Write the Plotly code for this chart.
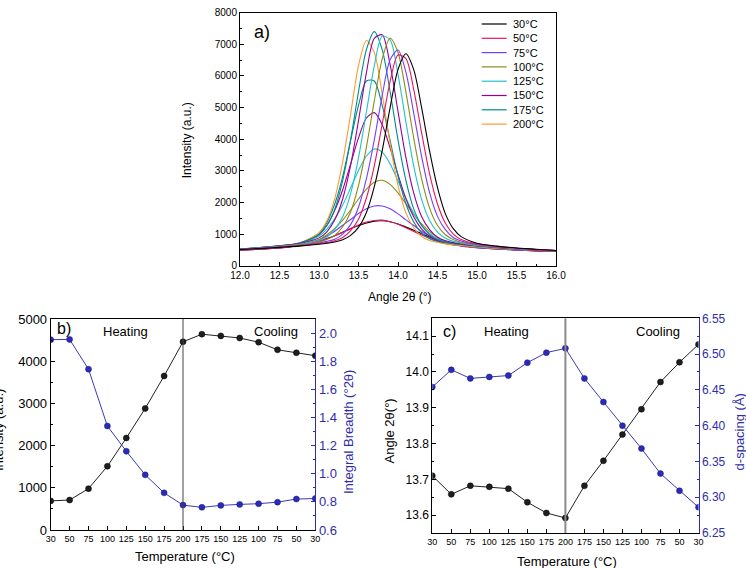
import plotly.graph_objects as go

# ---------------- data: panel a (XRD patterns) ----------------
angle_grid = [12.0, 12.25, 12.5, 12.75, 13.0, 13.1, 13.2, 13.3, 13.4, 13.5, 13.6, 13.7, 13.8, 13.9,
              14.0, 14.1, 14.2, 14.3, 14.4, 14.5, 14.6, 14.7, 14.8, 15.0, 15.25, 15.5, 15.75, 16.0]

heat_30 = [490, 520, 560, 640, 780, 860, 950, 1060, 1170, 1270, 1350, 1410, 1420, 1390, 1320, 1220, 1120, 1010, 910, 820, 750, 690, 640, 580, 530, 500, 470, 450]
heat_50 = [490, 520, 560, 630, 770, 850, 950, 1060, 1180, 1290, 1380, 1430, 1440, 1390, 1310, 1200, 1080, 970, 870, 780, 710, 660, 620, 570, 530, 500, 470, 450]
heat_75 = [500, 530, 570, 650, 820, 940, 1090, 1280, 1460, 1650, 1800, 1890, 1890, 1800, 1640, 1450, 1270, 1080, 930, 810, 730, 670, 630, 570, 530, 500, 480, 450]
heat_100 = [510, 540, 580, 650, 830, 980, 1180, 1440, 1760, 2110, 2420, 2640, 2700, 2570, 2300, 1960, 1620, 1320, 1080, 900, 780, 700, 650, 590, 540, 510, 490, 460]
heat_125 = [520, 550, 590, 680, 940, 1160, 1490, 1920, 2460, 3010, 3460, 3690, 3590, 3220, 2680, 2130, 1650, 1270, 1020, 850, 750, 680, 640, 590, 550, 520, 490, 460]
heat_150 = [520, 560, 610, 700, 1000, 1280, 1750, 2400, 3210, 4040, 4670, 4840, 4460, 3720, 2880, 2120, 1540, 1160, 930, 790, 710, 670, 640, 600, 560, 520, 490, 460]
heat_175 = [530, 570, 620, 710, 1030, 1370, 1960, 2820, 3960, 5070, 5840, 5840, 5070, 3960, 2830, 1960, 1380, 1030, 850, 760, 700, 660, 640, 600, 560, 520, 490, 470]
heat_200 = [530, 570, 630, 720, 1040, 1420, 2130, 3280, 4790, 6330, 7120, 6740, 5430, 3860, 2540, 1670, 1200, 920, 800, 740, 690, 660, 640, 600, 550, 520, 490, 460]
cool_175 = [530, 575, 630, 720, 980, 1270, 1790, 2700, 3980, 5500, 6830, 7400, 6830, 5500, 3980, 2700, 1790, 1270, 980, 830, 750, 710, 670, 620, 570, 530, 500, 470]
cool_150 = [530, 570, 630, 700, 880, 1070, 1450, 2110, 3170, 4590, 6100, 7190, 7300, 6360, 4880, 3420, 2290, 1550, 1140, 900, 790, 730, 690, 630, 580, 530, 500, 470]
cool_125 = [520, 565, 610, 680, 800, 910, 1150, 1550, 2280, 3410, 4860, 6320, 7260, 7140, 6050, 4550, 3140, 2090, 1430, 1060, 870, 770, 720, 640, 590, 540, 510, 480]
cool_100 = [520, 550, 600, 660, 750, 830, 960, 1230, 1700, 2540, 3750, 5210, 6540, 7190, 6740, 5490, 4020, 2740, 1820, 1270, 980, 830, 740, 660, 590, 550, 510, 480]
cool_75 = [510, 550, 590, 640, 720, 770, 840, 1000, 1300, 1850, 2750, 3980, 5380, 6510, 6820, 6120, 4810, 3440, 2310, 1560, 1140, 890, 780, 670, 600, 550, 510, 480]
cool_50 = [510, 540, 580, 630, 700, 730, 790, 890, 1110, 1470, 2140, 3160, 4480, 5820, 6660, 6550, 5560, 4190, 2900, 1950, 1340, 1000, 830, 690, 610, 560, 510, 480]
cool_30 = [510, 540, 580, 620, 680, 710, 750, 820, 960, 1210, 1680, 2500, 3640, 5000, 6200, 6700, 6190, 4980, 3620, 2470, 1640, 1170, 920, 710, 620, 560, 520, 480]

legend_labels = ["30°C", "50°C", "75°C", "100°C", "125°C", "150°C", "175°C", "200°C"]
curve_colors = ["#000000", "#e8175d", "#7040ff", "#8c8c18", "#25c0c8", "#970097", "#00898c", "#ff9a30"]

# ---------------- data: panels b and c ----------------
temp_labels = ["30", "50", "75", "100", "125", "150", "175", "200", "175", "150", "125", "100", "75", "50", "30"]
peak_intensity = [690, 710, 980, 1510, 2180, 2880, 3650, 4460, 4640, 4600, 4550, 4450, 4270, 4200, 4130]
integral_breadth = [1.953, 1.955, 1.743, 1.339, 1.160, 0.992, 0.864, 0.777, 0.761, 0.775, 0.782, 0.787, 0.798, 0.820, 0.824]
peak_angle = [13.710, 13.658, 13.682, 13.679, 13.674, 13.636, 13.606, 13.592, 13.682, 13.752, 13.825, 13.896, 13.972, 14.027, 14.077]
d_spacing = [6.454, 6.478, 6.466, 6.468, 6.470, 6.488, 6.502, 6.508, 6.466, 6.433, 6.400, 6.368, 6.333, 6.309, 6.286]

# ---------------- styling ----------------
W, H = 746, 568
FONT = "Liberation Sans, Arial, sans-serif"
BLUE = "#2e2ea8"
BLUE_LINE = "#3a3ab8"


def px(x):
    return x / W


def py(y):
    return 1 - y / H


fig = go.Figure()

heating = [heat_30, heat_50, heat_75, heat_100, heat_125, heat_150, heat_175, heat_200]
cooling = [cool_30, cool_50, cool_75, cool_100, cool_125, cool_150, cool_175]

for lab, col, ys in zip(legend_labels, curve_colors, heating):
    fig.add_trace(go.Scatter(x=angle_grid, y=ys, mode="lines", name=lab + " heating",
                             line=dict(color=col, width=1.1, shape="spline", smoothing=0.8),
                             xaxis="x", yaxis="y"))
for lab, col, ys in reversed(list(zip(legend_labels[:7], curve_colors[:7], cooling))):
    fig.add_trace(go.Scatter(x=angle_grid, y=ys, mode="lines", name=lab + " cooling",
                             line=dict(color=col, width=1.1, shape="spline", smoothing=0.8),
                             xaxis="x", yaxis="y"))

idx = list(range(len(temp_labels)))

fig.add_trace(go.Scatter(x=idx, y=peak_intensity, mode="lines+markers", name="Intensity",
                         line=dict(color="#222222", width=1),
                         marker=dict(size=6, color="#1e1e1e", line=dict(color="#000000", width=0.5)),
                         xaxis="x2", yaxis="y2"))
fig.add_trace(go.Scatter(x=idx, y=integral_breadth, mode="lines+markers", name="Integral Breadth",
                         line=dict(color=BLUE_LINE, width=1),
                         marker=dict(size=6, color="#2b2bb8", line=dict(color="#1a1a80", width=0.5)),
                         xaxis="x2", yaxis="y3"))
fig.add_trace(go.Scatter(x=idx, y=peak_angle, mode="lines+markers", name="Angle 2θ",
                         line=dict(color="#222222", width=1),
                         marker=dict(size=6, color="#1e1e1e", line=dict(color="#000000", width=0.5)),
                         xaxis="x3", yaxis="y4"))
fig.add_trace(go.Scatter(x=idx, y=d_spacing, mode="lines+markers", name="d-spacing",
                         line=dict(color=BLUE_LINE, width=1),
                         marker=dict(size=6, color="#2b2bb8", line=dict(color="#1a1a80", width=0.5)),
                         xaxis="x3", yaxis="y5"))

common = dict(showgrid=False, zeroline=False, showline=True, linecolor="black", linewidth=1,
              ticks="inside", tickcolor="black", ticklen=4)

fig.update_layout(
    width=W, height=H, margin=dict(l=0, r=0, t=0, b=0, autoexpand=False),
    paper_bgcolor="white", plot_bgcolor="white", showlegend=False,
    font=dict(family=FONT, color="black"),
    xaxis=dict(domain=[px(240), px(556)], anchor="y", range=[12.0, 16.0], dtick=0.5, tick0=12.0,
               tickformat=".1f", mirror=True, tickfont=dict(size=10),
               minor=dict(ticks="inside", ticklen=2, dtick=0.25, tickcolor="black"), **common),
    yaxis=dict(domain=[py(265.7), py(12.7)], anchor="x", range=[0, 8000], dtick=1000,
               mirror=True, tickfont=dict(size=10),
               minor=dict(ticks="inside", ticklen=2, dtick=500, tickcolor="black"), **common),
    xaxis2=dict(domain=[px(50.7), px(315.3)], anchor="y2", range=[0, 14], tickmode="array",
                tickvals=idx, ticktext=temp_labels, mirror=True, tickfont=dict(size=9), **common),
    yaxis2=dict(domain=[py(530), py(319)], anchor="x2", range=[0, 5000], dtick=1000,
                tickfont=dict(size=13),
                minor=dict(ticks="inside", ticklen=2, dtick=500, tickcolor="black"), **common),
    yaxis3=dict(overlaying="y2", anchor="x2", side="right", range=[0.6, 2.1], dtick=0.2, tick0=0.6,
                tickformat=".1f", showgrid=False, zeroline=False, showline=True, linecolor=BLUE,
                linewidth=1, ticks="inside", tickcolor=BLUE, ticklen=4,
                tickfont=dict(size=13, color=BLUE),
                minor=dict(ticks="inside", ticklen=2, dtick=0.1, tickcolor=BLUE)),
    xaxis3=dict(domain=[px(432.3), px(698.5)], anchor="y4", range=[0, 14], tickmode="array",
                tickvals=idx, ticktext=temp_labels, mirror=True, tickfont=dict(size=9), **common),
    yaxis4=dict(domain=[py(533), py(318.3)], anchor="x3", range=[13.55, 14.15], dtick=0.1, tick0=13.6,
                tickformat=".1f", tickfont=dict(size=12),
                minor=dict(ticks="inside", ticklen=2, dtick=0.05, tickcolor="black"), **common),
    yaxis5=dict(overlaying="y4", anchor="x3", side="right", range=[6.25, 6.55], dtick=0.05, tick0=6.25,
                tickformat=".2f", showgrid=False, zeroline=False, showline=True, linecolor=BLUE,
                linewidth=1, ticks="inside", tickcolor=BLUE, ticklen=4,
                tickfont=dict(size=12, color=BLUE),
                minor=dict(ticks="inside", ticklen=2, dtick=0.025, tickcolor=BLUE)),
)

# vertical separators heating/cooling at the 200 °C point
sep_index = temp_labels.index("200")
fig.add_shape(type="line", xref="x2", yref="y2 domain", x0=sep_index, x1=sep_index, y0=0, y1=1,
              line=dict(color="#444444", width=1))
fig.add_shape(type="line", xref="x3", yref="y4 domain", x0=sep_index, x1=sep_index, y0=0, y1=1,
              line=dict(color="#8a8a8a", width=2))

annotations = []


def ann(text, x, y, size, color="black", angle=0, xanchor="center"):
    annotations.append(dict(text=text, x=px(x), y=py(y), xref="paper", yref="paper",
                            showarrow=False, textangle=angle, xanchor=xanchor, yanchor="middle",
                            font=dict(size=size, color=color, family=FONT)))


# panel a
ann("a)", 262, 32, 18)
ann("Angle 2θ (°)", 400, 296.7, 12)
ann("Intensity (a.u.)", 187.3, 140, 12, angle=-90)
# panel b
ann("b)", 64, 328.5, 16)
ann("Heating", 125, 331.7, 13)
ann("Cooling", 276, 331.7, 13)
ann("Temperature (°C)", 185, 556.7, 13)
ann("Intensity (a.u.)", -2, 430, 13, angle=-90)
ann("Integral Breadth (°2θ)", 348.3, 431.7, 13, color=BLUE, angle=-90)
# panel c
ann("c)", 449.7, 331.7, 16)
ann("Heating", 506, 331.7, 13)
ann("Cooling", 657.7, 331.7, 13)
ann("Temperature (°C)", 567.3, 561, 13)
ann("Angle 2θ(°)", 389.7, 430.8, 13, angle=-90)
ann("d-spacing (Å)", 739.7, 431.7, 13, color=BLUE, angle=-90)

# manual compact legend for panel a
for i, (lab, col) in enumerate(zip(legend_labels, curve_colors)):
    yy = 24 + 14.3 * i
    fig.add_shape(type="line", xref="paper", yref="paper", x0=px(481.7), x1=px(506.7), y0=py(yy), y1=py(yy),
                  line=dict(color=col, width=1.2))
    ann(lab, 510.7, yy, 11, xanchor="left")

fig.update_layout(annotations=annotations)

fig.write_html("out.html")
